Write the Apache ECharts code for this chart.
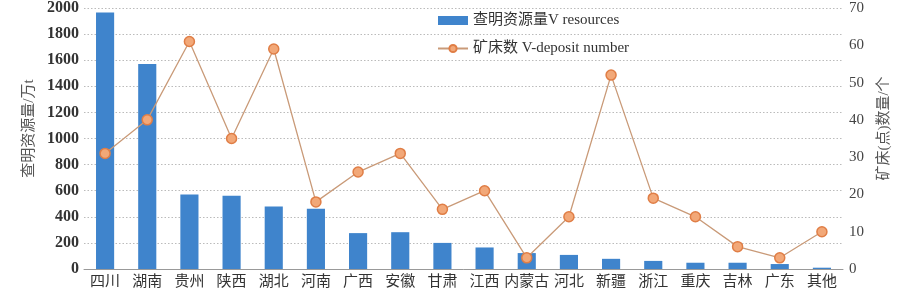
<!DOCTYPE html>
<html>
<head>
<meta charset="utf-8">
<script src="https://cdn.jsdelivr.net/npm/echarts@6/dist/echarts.min.js"></script>
<style>
  html, body { margin: 0; padding: 0; background: #fff; }
  #chart { width: 900px; height: 293px; }
</style>
</head>
<body>
<div id="chart"></div>
<script>
// 省份
const provinces = ['四川', '湖南', '贵州', '陕西', '湖北', '河南', '广西', '安徽', '甘肃',
  '江西', '内蒙古', '河北', '新疆', '浙江', '重庆', '吉林', '广东', '其他'];
// 查明资源量 (万t)
const resources = [1965, 1570, 570, 562, 478, 462, 275, 282, 200, 165, 122, 108, 78, 62, 48, 48, 38, 10];
// 矿床(点)数量
const deposits = [31, 40, 61, 35, 59, 18, 26, 31, 16, 21, 3, 14, 52, 19, 14, 6, 3, 10];

const serif = '"Liberation Serif", "Noto Sans CJK SC", serif';

const chart = echarts.init(document.getElementById('chart'));

const option = {
  animation: false,
  grid: { left: 84, right: 57, top: 5, bottom: 24 },
  legend: {
    orient: 'vertical',
    left: 432,
    top: 8,
    itemGap: 13,
    itemWidth: 30,
    itemHeight: 9,
    textStyle: { fontFamily: serif, fontSize: 15, color: '#333' },
    data: [
      { name: '查明资源量V resources', icon: 'rect' },
      { name: '矿床数 V-deposit number' }
    ]
  },
  xAxis: {
    type: 'category',
    data: provinces,
    axisLine: { lineStyle: { color: '#999' } },
    axisTick: { show: false },
    axisLabel: { interval: 0, fontFamily: serif, fontSize: 15, color: '#333', margin: 6 }
  },
  yAxis: [
    {
      type: 'value',
      min: 0,
      max: 2000,
      interval: 200,
      name: '查明资源量/万t',
      nameLocation: 'middle',
      nameRotate: 90,
      nameGap: 44,
      nameTextStyle: { fontFamily: serif, fontSize: 15, color: '#555', padding: [0, 0, 0, 20] },
      axisLabel: { fontFamily: serif, fontSize: 16, fontWeight: 'bold', color: '#333', margin: 5, formatter: v => String(v) },
      splitLine: { lineStyle: { color: '#bbb', type: [1.5, 2] } },
      axisLine: { show: false },
      axisTick: { show: false }
    },
    {
      type: 'value',
      min: 0,
      max: 70,
      interval: 10,
      name: '矿床(点)数量/个',
      nameLocation: 'middle',
      nameRotate: 90,
      nameGap: 34,
      nameTextStyle: { fontFamily: serif, fontSize: 15, color: '#555', padding: [0, 0, 0, 20] },
      axisLabel: { fontFamily: serif, fontSize: 15, color: '#444', margin: 6 },
      splitLine: { show: false },
      axisLine: { show: false },
      axisTick: { show: false }
    }
  ],
  series: [
    {
      name: '查明资源量V resources',
      type: 'bar',
      data: resources,
      barWidth: '43%',
      itemStyle: { color: '#3f84cc' }
    },
    {
      name: '矿床数 V-deposit number',
      type: 'line',
      yAxisIndex: 1,
      data: deposits,
      symbol: 'circle',
      symbolSize: 10,
      lineStyle: { color: '#c99a78', width: 1.3 },
      itemStyle: { color: '#f2a878', borderColor: '#e07e46', borderWidth: 1.5 }
    }
  ]
};

chart.setOption(option);
</script>
</body>
</html>
